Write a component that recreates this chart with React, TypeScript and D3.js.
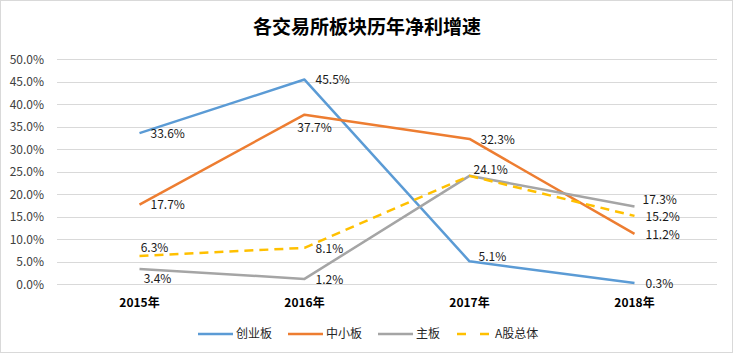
import React from "react";
import * as d3 from "d3";

const categories = ["2015年", "2016年", "2017年", "2018年"];
const seriesNames = ["创业板", "中小板", "主板", "A股总体"];
const chinext = [33.6, 45.5, 5.1, 0.3];
const sme = [17.7, 37.7, 32.3, 11.2];
const mainBoard = [3.4, 1.2, 24.1, 17.3];
const aShares = [6.3, 8.1, 24.1, 15.2];
const yTicks = [0, 5, 10, 15, 20, 25, 30, 35, 40, 45, 50];
const title = "各交易所板块历年净利增速";

// label placement keywords per series/point
const placements = [
  ["r", "r", "ru", "r"],
  ["r", "b", "r", "r"],
  ["br", "r", "none", "ru2"],
  ["a", "r", "ar", "r"],
];

const W = 735;
const H = 357;
const colors = ["#5B9BD5", "#ED7D31", "#A5A5A5", "#FFC000"];
const font = "'Microsoft YaHei', 'Noto Sans CJK SC', 'Noto Sans', sans-serif";

export default function App() {
  const x = d3.scaleBand<string>().domain(categories).range([57, 717]);
  const y = d3.scaleLinear().domain([0, 50]).range([284.3, 59.3]);
  const cx = (c: string) => (x(c) as number) + x.bandwidth() / 2;
  const all = [chinext, sme, mainBoard, aShares];
  const line = d3
    .line<number>()
    .x((_, i) => cx(categories[i]))
    .y((d) => y(d));

  const labelPos = (p: string, px: number, py: number) => {
    switch (p) {
      case "r":
        return { x: px + 11, y: py + 0.5, anchor: "start" };
      case "ru":
        return { x: px + 9, y: py - 4.5, anchor: "start" };
      case "ru2":
        return { x: px + 8, y: py - 6.5, anchor: "start" };
      case "b":
        return { x: px + 10, y: py + 13, anchor: "middle" };
      case "br":
        return { x: px + 18, y: py + 9.5, anchor: "middle" };
      case "a":
        return { x: px + 15, y: py - 8, anchor: "middle" };
      case "ar":
        return { x: px + 4, y: py - 6, anchor: "start" };
      default:
        return null;
    }
  };

  const legendX = [198, 288, 378, 457];

  return (
    <svg
      width={W}
      height={H}
      style={{ position: "absolute", left: 0, top: 0, background: "#fff" }}
      fontFamily={font}
    >
      <rect x={0.5} y={0.5} width={732} height={352} fill="#fff" stroke="#D9D9D9" />
      <text x={367} y={34} textAnchor="middle" fontSize={19} fontWeight="bold" fill="#000">
        {title}
      </text>
      {yTicks.map((t) => (
        <g key={t}>
          <line x1={57} x2={717} y1={Math.round(y(t)) + 0.5} y2={Math.round(y(t)) + 0.5} stroke="#D9D9D9" />
          <text x={44} y={y(t)} dy="0.35em" textAnchor="end" fontSize={12} fill="#404040">
            {t.toFixed(1) + "%"}
          </text>
        </g>
      ))}
      {categories.map((c) => (
        <text key={c} x={cx(c)} y={303} dy="0.35em" textAnchor="middle" fontSize={12} fontWeight="bold" fill="#000">
          {c}
        </text>
      ))}
      {all.map((s, i) => (
        <path
          key={i}
          d={line(s) as string}
          fill="none"
          stroke={colors[i]}
          strokeWidth={2.5}
          strokeDasharray={i === 3 ? "9,6" : undefined}
          strokeLinejoin="round"
        />
      ))}
      {all.map((s, i) =>
        s.map((v, j) => {
          const txt = v.toFixed(1) + "%";
          const pos = labelPos(placements[i][j], cx(categories[j]), y(v));
          if (!pos) return null;
          return (
            <text
              key={i + "-" + j}
              x={pos.x}
              y={pos.y}
              dy="0.35em"
              textAnchor={pos.anchor as any}
              fontSize={12}
              fill="#1a1a1a"
            >
              {txt}
            </text>
          );
        })
      )}
      {seriesNames.map((n, i) => (
        <g key={n}>
          <line
            x1={legendX[i]}
            x2={legendX[i] + (i === 3 ? 32 : 35)}
            y1={334}
            y2={334}
            stroke={colors[i]}
            strokeWidth={2.5}
            strokeDasharray={i === 3 ? "9,14" : undefined}
          />
          <text x={legendX[i] + 38} y={334} dy="0.35em" fontSize={12} fill="#262626">
            {n}
          </text>
        </g>
      ))}
    </svg>
  );
}
